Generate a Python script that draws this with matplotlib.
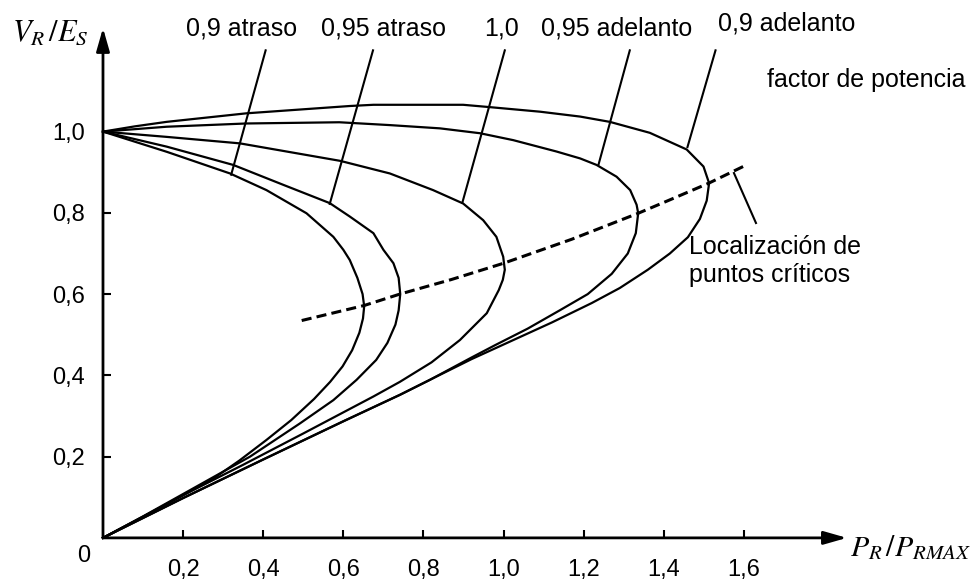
import numpy as np
import matplotlib.pyplot as plt

plt.rcParams['font.family'] = ['Liberation Sans', 'DejaVu Sans']
plt.rcParams['mathtext.fontset'] = 'stix'

# P_R/P_RMAX and V_R/E_S along each curve, upper branch -> nose -> lower branch
p_09_atr = [0, 0.16, 0.317, 0.408, 0.508, 0.575, 0.600, 0.616, 0.635, 0.648, 0.652, 0.649,
            0.640, 0.622, 0.598, 0.567, 0.527, 0.470, 0.408, 0.340, 0.283, 0.200, 0.100, 0]
v_09_atr = [1.0, 0.950, 0.897, 0.856, 0.799, 0.741, 0.709, 0.684, 0.640, 0.600, 0.570, 0.540,
            0.505, 0.462, 0.422, 0.384, 0.342, 0.290, 0.241, 0.190, 0.151, 0.105, 0.052, 0]

p_095_atr = [0, 0.159, 0.325, 0.45, 0.566, 0.616, 0.675, 0.700, 0.725, 0.738, 0.742, 0.738,
             0.730, 0.710, 0.682, 0.633, 0.575, 0.492, 0.367, 0.200, 0.100, 0]
v_095_atr = [1.0, 0.963, 0.918, 0.869, 0.824, 0.791, 0.750, 0.709, 0.676, 0.640, 0.600, 0.560,
             0.525, 0.480, 0.438, 0.389, 0.339, 0.282, 0.200, 0.108, 0.053, 0]

p_10 = [0, 0.159, 0.342, 0.592, 0.716, 0.824, 0.899, 0.949, 0.982, 0.999, 1.003, 0.998,
        0.988, 0.958, 0.891, 0.820, 0.741, 0.675, 0.50, 0.35, 0.200, 0.100, 0]
v_10 = [1.0, 0.987, 0.971, 0.928, 0.897, 0.856, 0.823, 0.782, 0.741, 0.692, 0.660, 0.635,
        0.610, 0.553, 0.487, 0.432, 0.384, 0.348, 0.257, 0.180, 0.105, 0.052, 0]

p_095_ade = [0, 0.159, 0.358, 0.59, 0.716, 0.841, 0.941, 1.024, 1.132, 1.191, 1.232, 1.282,
             1.316, 1.332, 1.336, 1.330, 1.310, 1.270, 1.210, 1.140, 1.060, 0.980, 0.920,
             0.816, 0.741, 0.600, 0.400, 0.200, 0]
v_095_ade = [1.0, 1.012, 1.020, 1.023, 1.016, 1.008, 0.996, 0.979, 0.951, 0.934, 0.918, 0.889,
             0.856, 0.820, 0.799, 0.750, 0.700, 0.650, 0.600, 0.560, 0.515, 0.475, 0.444,
             0.389, 0.352, 0.287, 0.193, 0.098, 0]

p_09_ade = [0, 0.08, 0.159, 0.358, 0.616, 0.675, 0.899, 0.957, 1.091, 1.191, 1.265, 1.365,
            1.457, 1.499, 1.513, 1.507, 1.490, 1.460, 1.415, 1.360, 1.290, 1.220, 1.120,
            1.020, 0.920, 0.816, 0.741, 0.600, 0.400, 0.200, 0]
v_09_ade = [1.0, 1.013, 1.024, 1.045, 1.063, 1.066, 1.066, 1.061, 1.049, 1.037, 1.024, 0.997,
            0.956, 0.914, 0.873, 0.830, 0.785, 0.740, 0.700, 0.660, 0.615, 0.578, 0.530,
            0.485, 0.440, 0.389, 0.352, 0.287, 0.193, 0.098, 0]

# locus of critical (nose) points
p_crit = [0.496, 0.652, 0.741, 0.791, 0.870, 1.0, 1.17, 1.336, 1.415, 1.512, 1.60]
v_crit = [0.535, 0.572, 0.600, 0.614, 0.636, 0.676, 0.735, 0.799, 0.832, 0.873, 0.915]

# power factor labels and their leader lines (top end, point on curve)
pf_labels = ['0,9 atraso', '0,95 atraso', '1,0', '0,95 adelanto', '0,9 adelanto']
label_p = [0.347, 0.701, 0.996, 1.283, 1.707]
label_v = [1.255, 1.255, 1.255, 1.255, 1.265]
lead_top_p = [0.406, 0.674, 1.003, 1.315, 1.529]
lead_bot_p = [0.320, 0.566, 0.897, 1.237, 1.459]
lead_bot_v = [0.894, 0.822, 0.825, 0.919, 0.962]
lead_top_v = 1.2

crit_lead_p = [1.575, 1.630]
crit_lead_v = [0.898, 0.775]

x_ticks = [0.2, 0.4, 0.6, 0.8, 1.0, 1.2, 1.4, 1.6]
y_ticks = [0.2, 0.4, 0.6, 0.8, 1.0]

fig = plt.figure(figsize=(9.79, 5.82), dpi=100)
ax = fig.add_axes([0.1052, 0.0758, 0.8184, 0.9075])
ax.set_xlim(0, 2.0)
ax.set_ylim(0, 1.3)

lw = 1.6
for p, v in [(p_09_atr, v_09_atr), (p_095_atr, v_095_atr), (p_10, v_10),
             (p_095_ade, v_095_ade), (p_09_ade, v_09_ade)]:
    ax.plot(p, v, color='k', lw=lw, solid_joinstyle='round', clip_on=False)

ax.plot(p_crit, v_crit, color='k', lw=2.2, linestyle=(0, (3.3, 1.7)), clip_on=False)

for txt, lp, lv, tp, bp, bv in zip(pf_labels, label_p, label_v, lead_top_p, lead_bot_p, lead_bot_v):
    ax.plot([tp, bp], [lead_top_v, bv], color='k', lw=1.5, clip_on=False)
    ax.text(lp, lv, txt, ha='center', va='center', fontsize=18, clip_on=False)

ax.plot(crit_lead_p, crit_lead_v, color='k', lw=1.5, clip_on=False)
ax.text(1.463, 0.716, 'Localización de', ha='left', va='center', fontsize=18)
ax.text(1.463, 0.647, 'puntos críticos', ha='left', va='center', fontsize=18)
ax.text(1.905, 1.127, 'factor de potencia', ha='center', va='center', fontsize=18, clip_on=False)

# axes drawn as arrows
for s in ax.spines.values():
    s.set_visible(False)
arrow = dict(arrowstyle='-|>,head_length=0.7,head_width=0.2', lw=2, color='k',
             mutation_scale=20, shrinkA=0, shrinkB=0)
ax.annotate('', xy=(0, 1.255), xytext=(0, 0), arrowprops=arrow, annotation_clip=False)
ax.annotate('', xy=(1.857, 0), xytext=(0, 0), arrowprops=arrow, annotation_clip=False)

ax.set_xticks(x_ticks, [f'{t:.1f}'.replace('.', ',') for t in x_ticks])
ax.set_yticks(y_ticks, [f'{t:.1f}'.replace('.', ',') for t in y_ticks])
ax.tick_params(axis='x', direction='in', length=6, width=1.5, pad=15, labelsize=17)
ax.tick_params(axis='y', direction='in', length=6, width=1.5, pad=13, labelsize=17)
ax.text(-0.047, -0.045, '0', ha='center', va='center', fontsize=17, clip_on=False)

ax.text(-0.132, 1.243, r'$V_R\,/E_S$', ha='center', va='center', fontsize=22, clip_on=False)
ax.text(1.865, -0.025, r'$P_R\,/P_{RMAX}$', ha='left', va='center', fontsize=21.5, clip_on=False)

fig.savefig('out.png', dpi=100)
